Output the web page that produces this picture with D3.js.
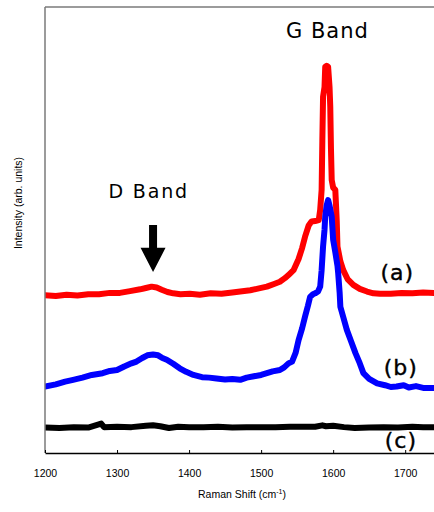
<!DOCTYPE html>
<html>
<head>
<meta charset="utf-8">
<script src="https://d3js.org/d3.v7.min.js"></script>
<style>
    body { margin: 0; background: #fff; }
    text { font-family: "Liberation Sans", Arial, sans-serif; }
</style>
</head>
<body>
<div id="chart"></div>
<script>

    // Raman shift (cm-1) and intensity (arb. units, 0-100) for each spectrum
    var redShift = [1200, 1215, 1230, 1245, 1260, 1275, 1290, 1304, 1318, 1332, 1340, 1348, 1355, 1362, 1370, 1378, 1388, 1401, 1415, 1430, 1445, 1460, 1471, 1485, 1497, 1508, 1518, 1526, 1533, 1538, 1545, 1552, 1557, 1561, 1566, 1570, 1575, 1580, 1582, 1584, 1585, 1586, 1588, 1589, 1591, 1593, 1595, 1596, 1597, 1598, 1600, 1603, 1605, 1606, 1610, 1614, 1620, 1628, 1637, 1647, 1656, 1665, 1680, 1695, 1710, 1725, 1740];
    var redInt = [35.4, 35.2, 35.5, 35.3, 35.6, 35.6, 35.9, 35.9, 36.3, 36.7, 37.0, 37.3, 37.1, 36.6, 36.1, 35.8, 35.6, 35.7, 35.5, 35.8, 35.7, 36.0, 36.2, 36.5, 36.9, 37.3, 37.9, 38.4, 39.2, 39.9, 41.0, 43.5, 46.0, 48.5, 51.0, 51.9, 52.0, 52.2, 54.5, 59.0, 70.0, 79.9, 82.0, 86.6, 86.8, 86.6, 82.0, 77.6, 68.0, 61.2, 59.5, 59.0, 52.0, 46.3, 43.0, 41.0, 39.0, 37.7, 36.8, 36.2, 35.8, 35.7, 35.7, 35.9, 35.8, 36.0, 35.9];

    var blueShift = [1200, 1215, 1228, 1239, 1252, 1265, 1280, 1290, 1300, 1310, 1320, 1327, 1335, 1342, 1350, 1357, 1363, 1369, 1378, 1387, 1396, 1406, 1418, 1428, 1438, 1450, 1460, 1471, 1480, 1490, 1500, 1508, 1516, 1526, 1532, 1538, 1543, 1548, 1552, 1557, 1561, 1565, 1568, 1572, 1575, 1579, 1582, 1584, 1586, 1588, 1589, 1591, 1593, 1595, 1598, 1600, 1603, 1606, 1607, 1609, 1610, 1614, 1619, 1625, 1631, 1636, 1642, 1650, 1661, 1672, 1680, 1688, 1698, 1705, 1715, 1725, 1740];
    var blueInt = [14.9, 15.4, 16.0, 16.4, 16.9, 17.5, 17.9, 18.4, 18.6, 19.4, 20.1, 20.5, 21.3, 21.9, 22.1, 21.9, 21.3, 20.9, 20.0, 19.0, 18.2, 17.5, 17.0, 16.9, 16.7, 16.5, 16.6, 16.4, 16.9, 17.2, 17.5, 17.9, 18.3, 18.6, 19.2, 20.1, 20.5, 22.5, 25.3, 28.0, 30.6, 33.0, 35.0, 35.6, 35.8, 36.2, 37.3, 41.0, 46.3, 50.0, 53.0, 55.5, 56.7, 55.5, 53.0, 47.8, 45.0, 42.0, 40.3, 36.0, 32.8, 30.5, 27.6, 25.0, 22.4, 20.5, 17.9, 16.6, 15.6, 15.2, 14.8, 14.9, 15.2, 14.7, 15.0, 14.6, 14.6];

    var blackShift = [1200, 1220, 1240, 1260, 1278, 1282, 1300, 1320, 1340, 1350, 1360, 1372, 1385, 1400, 1420, 1440, 1460, 1480, 1500, 1520, 1540, 1560, 1575, 1585, 1590, 1600, 1615, 1630, 1650, 1670, 1690, 1710, 1725, 1740];
    var blackInt = [5.7, 5.6, 5.8, 5.7, 6.6, 5.8, 5.9, 5.8, 6.1, 6.2, 6.0, 5.6, 5.9, 5.8, 5.8, 5.9, 5.7, 5.8, 5.8, 5.8, 5.9, 5.9, 5.9, 6.2, 6.0, 6.1, 5.8, 5.6, 5.7, 5.8, 5.7, 5.9, 5.8, 5.8];

    var xTicks = [1200, 1300, 1400, 1500, 1600, 1700];

    // curve labels: text, shift, intensity (baseline)
    var curveLabels = ["(a)", "(b)", "(c)"];
    var curveLabelX = [1689, 1694, 1694];
    var curveLabelY = [38.8, 17.5, 1.1];

    var margin = { top: 7, right: 0, bottom: 59, left: 45 },
        width = 434 - margin.left - margin.right,
        height = 512 - margin.top - margin.bottom;

    var svg = d3.select("#chart")
        .append("svg")
        .attr("width", 434)
        .attr("height", 512)
        .append("g")
        .attr("transform", "translate(" + margin.left + "," + margin.top + ")");

    var x = d3.scaleLinear().domain([1200, 1740]).range([0, width]);
    var y = d3.scaleLinear().domain([0, 100]).range([height, 0]);

    svg.append("clipPath").attr("id", "clip")
        .append("rect").attr("width", width).attr("height", height);

    var plot = svg.append("g").attr("clip-path", "url(#clip)");

    var line = d3.line()
        .x(function (d) { return x(d[0]) })
        .y(function (d) { return y(d[1]) });

    var series = [
        { color: "#ff0000", data: d3.zip(redShift, redInt) },
        { color: "#0000ff", data: d3.zip(blueShift, blueInt) },
        { color: "#000000", data: d3.zip(blackShift, blackInt) }
    ];

    series.forEach(function (s) {
        plot.append("path")
            .datum(s.data)
            .attr("d", line)
            .attr("fill", "none")
            .attr("stroke", s.color)
            .attr("stroke-width", 6)
            .attr("stroke-linejoin", "round")
            .attr("stroke-linecap", "round");
    });

    // curve labels
    plot.selectAll(".clabel")
        .data(curveLabels)
        .enter()
        .append("text")
        .attr("class", "clabel")
        .attr("x", function (d, i) { return x(curveLabelX[i]) })
        .attr("y", function (d, i) { return y(curveLabelY[i]) })
        .attr("text-anchor", "middle")
        .style("font-family", "'DejaVu Sans', Verdana, sans-serif")
        .style("font-size", "22px")
        .style("letter-spacing", "1px")
        .style("stroke", "#000")
        .style("stroke-width", 0.4)
        .text(function (d) { return d });

    // band annotations
    plot.append("text")
        .attr("x", x(1592))
        .attr("y", y(93.0))
        .attr("text-anchor", "middle")
        .style("font-family", "'DejaVu Sans', Verdana, sans-serif")
        .style("font-size", "21px")
        .style("letter-spacing", "1px")
        .text("G Band");

    plot.append("text")
        .attr("x", x(1344))
        .attr("y", y(57.2))
        .attr("text-anchor", "middle")
        .style("font-family", "'DejaVu Sans', Verdana, sans-serif")
        .style("font-size", "19px")
        .style("letter-spacing", "1.8px")
        .text("D Band");

    // arrow pointing at D band
    var ax = x(1350), aTop = y(51.1), aTip = y(40.6), aHead = y(46.0);
    plot.append("path")
        .attr("d", "M" + (ax - 4) + "," + aTop + "H" + (ax + 4) + "V" + aHead +
            "H" + (ax + 12.5) + "L" + ax + "," + aTip + "L" + (ax - 12.5) + "," + aHead +
            "H" + (ax - 4) + "Z")
        .attr("fill", "#000");

    // frame: top and left in grey
    svg.append("line")
        .attr("x1", 0).attr("x2", width).attr("y1", 0).attr("y2", 0)
        .attr("stroke", "#7a7a7a").attr("stroke-width", 1.5);
    svg.append("line")
        .attr("x1", 0).attr("x2", 0).attr("y1", 0).attr("y2", height)
        .attr("stroke", "#7a7a7a").attr("stroke-width", 1.5);

    // x axis
    var xAxis = svg.append("g")
        .attr("transform", "translate(0," + height + ")")
        .call(d3.axisBottom(x).tickValues(xTicks).tickFormat(d3.format("d"))
            .tickSizeInner(-3).tickSizeOuter(0).tickPadding(17));
    xAxis.select(".domain").attr("stroke-width", 1.5);
    xAxis.selectAll("text")
        .style("font-family", "'Liberation Sans', Arial, sans-serif")
        .style("font-size", "10.5px")
        .attr("fill", "#000");

    // axis titles
    var xTitle = svg.append("text")
        .attr("x", 197)
        .attr("y", 498 - margin.top)
        .attr("text-anchor", "middle")
        .style("font-size", "10.5px");
    xTitle.append("tspan").text("Raman Shift (cm");
    xTitle.append("tspan").attr("dy", -4).style("font-size", "7px").text("-1");
    xTitle.append("tspan").attr("dy", 4).text(")");

    svg.append("text")
        .attr("transform", "translate(" + (22 - margin.left) + "," + (203 - margin.top) + ") rotate(-90)")
        .attr("text-anchor", "middle")
        .style("font-size", "10.5px")
        .text("Intensity (arb. units)");

</script>
</body>
</html>
